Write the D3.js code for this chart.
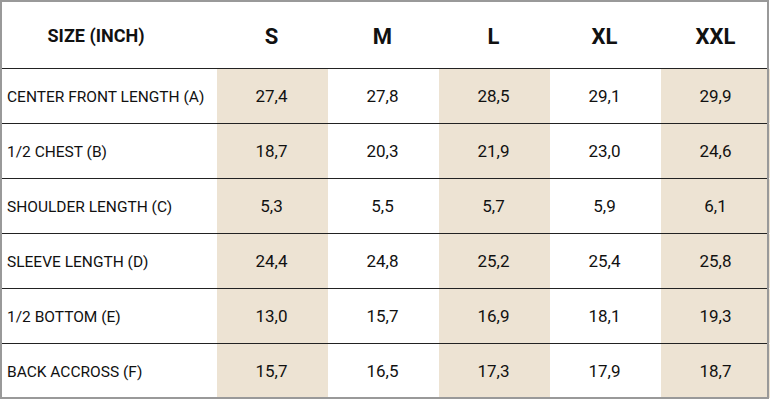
<!DOCTYPE html>
<html><head><meta charset="utf-8">
<script src="https://cdn.jsdelivr.net/npm/d3@7"></script>
<style>body{margin:0;background:#fff}</style>
</head><body><div class="size-table"></div>
<script>
const sizes = ["S", "M", "L", "XL", "XXL"];
const measures = ["CENTER FRONT LENGTH (A)", "1/2 CHEST (B)", "SHOULDER LENGTH (C)", "SLEEVE LENGTH (D)", "1/2 BOTTOM (E)", "BACK ACCROSS (F)"];
const values = [
  ["27,4", "27,8", "28,5", "29,1", "29,9"],
  ["18,7", "20,3", "21,9", "23,0", "24,6"],
  ["5,3", "5,5", "5,7", "5,9", "6,1"],
  ["24,4", "24,8", "25,2", "25,4", "25,8"],
  ["13,0", "15,7", "16,9", "18,1", "19,3"],
  ["15,7", "16,5", "17,3", "17,9", "18,7"]
];
const shaded = ["S", "L", "XXL"];

const width = 770, height = 400;
const svg = d3.select(".size-table").append("svg")
  .attr("width", width).attr("height", height)
  .style("font-family", "Roboto");

// columns: label column then size columns
const x = d3.scaleBand().domain(sizes).range([217, 772]);
const y = d3.scaleBand().domain(measures).range([68, 398]);

// shading
svg.append("g").selectAll("rect")
  .data(measures.flatMap(m => shaded.map(s => ({m, s}))))
  .join("rect")
    .attr("x", d => x(d.s)).attr("y", d => y(d.m) + 1)
    .attr("width", x.bandwidth()).attr("height", y.bandwidth() - 1)
    .attr("fill", "#ede3d3");

// row lines
svg.append("g").selectAll("line")
  .data(measures)
  .join("line")
    .attr("x1", 0).attr("x2", 768)
    .attr("y1", d => y(d) + 0.5).attr("y2", d => y(d) + 0.5)
    .attr("stroke", "#222").attr("stroke-width", 1.2);

// outer border
svg.append("rect").attr("x", 1).attr("y", 1).attr("width", 767).attr("height", 397)
  .attr("fill", "none").attr("stroke", "#999").attr("stroke-width", 2);

// header
svg.append("text").attr("x", 96).attr("y", 36).attr("dy", "0.35em")
  .attr("text-anchor", "middle").attr("font-size", 18).attr("font-weight", "bold")
  .attr("fill", "#111").text("SIZE (INCH)");
svg.append("g").selectAll("text").data(sizes).join("text")
  .attr("x", d => x(d) + x.bandwidth() / 2 - 1).attr("y", 36).attr("dy", "0.35em")
  .attr("text-anchor", "middle").attr("font-size", 22).attr("font-weight", "bold")
  .attr("fill", "#111").text(d => d);

// labels
svg.append("g").selectAll("text").data(measures).join("text")
  .attr("x", 7).attr("y", d => y(d) + y.bandwidth() / 2 + 1).attr("dy", "0.35em")
  .attr("font-size", 15.5).attr("fill", "#111").text(d => d);

// values
measures.forEach((m, i) => {
  svg.append("g").selectAll("text").data(values[i]).join("text")
    .attr("x", (d, j) => x(sizes[j]) + x.bandwidth() / 2 - 1)
    .attr("y", y(m) + y.bandwidth() / 2 + 1).attr("dy", "0.35em")
    .attr("text-anchor", "middle").attr("font-size", 17).attr("fill", "#111")
    .text(d => d);
});
</script></body></html>
